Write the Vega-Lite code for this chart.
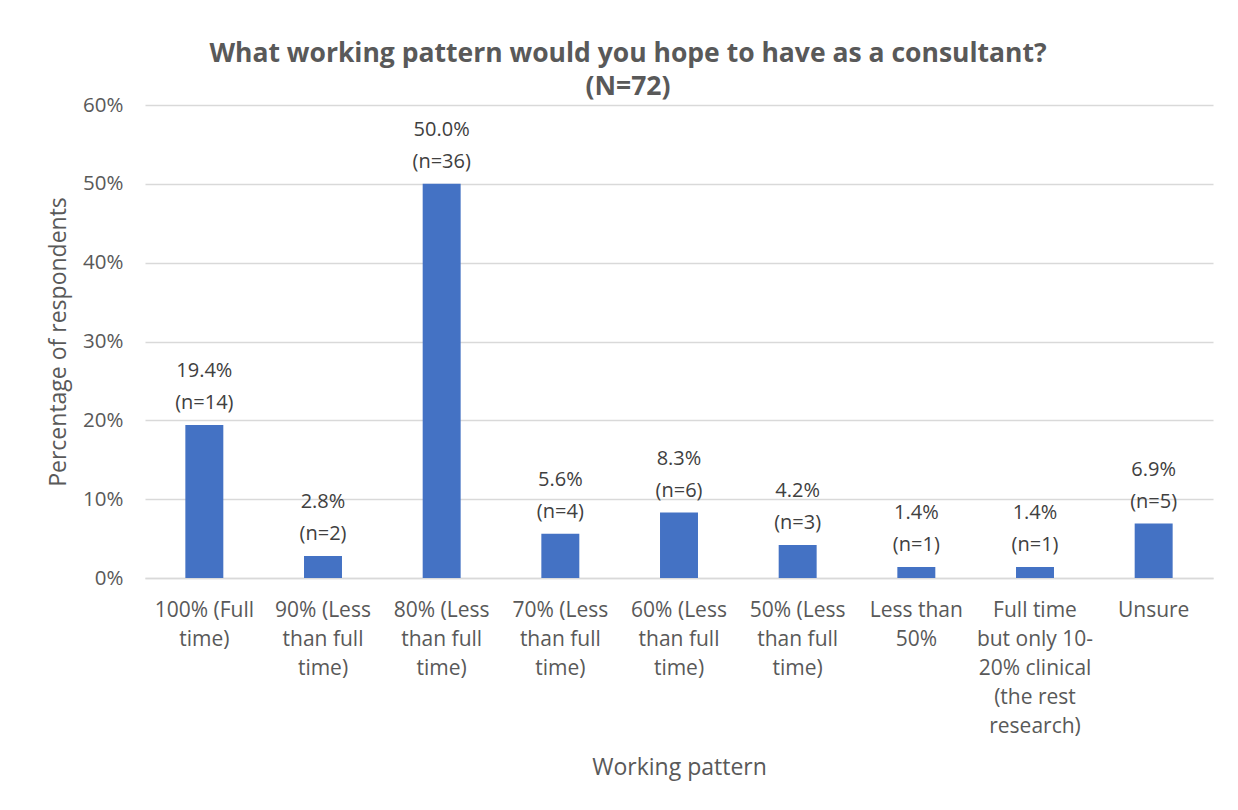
{
  "$schema": "https://vega.github.io/schema/vega-lite/v6.json",
  "width": 1068,
  "height": 473,
  "autosize": {"type": "none"},
  "padding": {"left": 145, "top": 105, "right": 25, "bottom": 232},
  "background": "white",
  "title": {
    "text": ["What working pattern would you hope to have as a consultant?", "(N=72)"],
    "anchor": "middle",
    "frame": "group",
    "dx": -51,
    "offset": -5,
    "font": "Open Sans",
    "fontSize": 26.5,
    "fontWeight": "bold",
    "color": "#595959",
    "lineHeight": 33
  },
  "data": {
    "values": [
      {"pattern": "100% (Full|time)", "pct": 19.4, "label": "19.4%|(n=14)"},
      {"pattern": "90% (Less|than full|time)", "pct": 2.8, "label": "2.8%|(n=2)"},
      {"pattern": "80% (Less|than full|time)", "pct": 50.0, "label": "50.0%|(n=36)"},
      {"pattern": "70% (Less|than full|time)", "pct": 5.6, "label": "5.6%|(n=4)"},
      {"pattern": "60% (Less|than full|time)", "pct": 8.3, "label": "8.3%|(n=6)"},
      {"pattern": "50% (Less|than full|time)", "pct": 4.2, "label": "4.2%|(n=3)"},
      {"pattern": "Less than|50%", "pct": 1.4, "label": "1.4%|(n=1)"},
      {"pattern": "Full time|but only 10-|20% clinical|(the rest|research)", "pct": 1.4, "label": "1.4%|(n=1)"},
      {"pattern": "Unsure", "pct": 6.9, "label": "6.9%|(n=5)"}
    ]
  },
  "encoding": {
    "x": {
      "field": "pattern",
      "type": "nominal",
      "sort": null,
      "scale": {"paddingInner": 0.68, "paddingOuter": 0.34},
      "axis": {
        "title": "Working pattern",
        "labelExpr": "split(datum.label, '|')",
        "labelAngle": 0,
        "labelFont": "Open Sans",
        "labelFontSize": 21,
        "labelColor": "#595959",
        "labelLineHeight": 29,
        "labelPadding": 21,
        "labelBaseline": "top",
        "ticks": false,
        "domainColor": "#d9d9d9",
        "domainWidth": 1.5,
        "titleFont": "Open Sans",
        "titleFontSize": 23,
        "titleFontWeight": "normal",
        "titleColor": "#595959",
        "titlePadding": 20
      }
    },
    "y": {
      "field": "pct",
      "type": "quantitative",
      "scale": {"domain": [0, 60]},
      "axis": {
        "title": "Percentage of respondents",
        "values": [0, 10, 20, 30, 40, 50, 60],
        "labelExpr": "datum.value + '%'",
        "labelFont": "Open Sans",
        "labelFontSize": 20.5,
        "labelColor": "#595959",
        "labelPadding": 22,
        "ticks": false,
        "domain": false,
        "gridColor": "#d9d9d9",
        "gridWidth": 1.5,
        "titleFont": "Open Sans",
        "titleFontSize": 23,
        "titleFontWeight": "normal",
        "titleColor": "#595959",
        "titlePadding": 12
      }
    }
  },
  "layer": [
    {"mark": {"type": "bar", "color": "#4472C4"}},
    {
      "mark": {
        "type": "text",
        "baseline": "bottom",
        "dy": -44,
        "lineBreak": "|",
        "lineHeight": 32,
        "font": "Open Sans",
        "fontSize": 20,
        "color": "#404040"
      },
      "encoding": {"text": {"field": "label"}}
    }
  ],
  "config": {"view": {"stroke": null}}
}
